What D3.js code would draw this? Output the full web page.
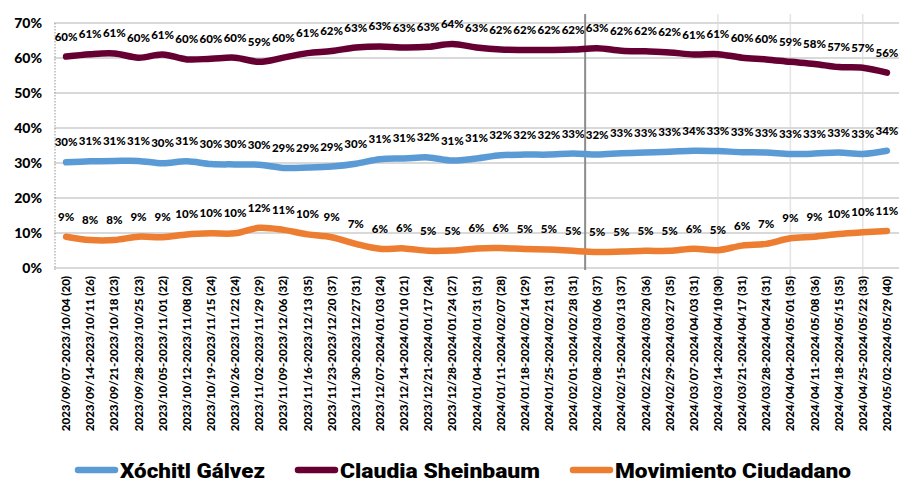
<!DOCTYPE html>
<html><head><meta charset="utf-8">
<script src="https://cdn.jsdelivr.net/npm/d3@7/dist/d3.min.js"></script>
<style>
html,body{margin:0;padding:0;background:#fff;}
svg{display:block;font-family:Lato,"Open Sans",sans-serif;}
</style></head>
<body><svg id="chart" width="921" height="502"></svg>
<script>
const categories = [
"2023/09/07-2023/10/04 (20)","2023/09/14-2023/10/11  (26)","2023/09/21-2023/10/18 (23)","2023/09/28-2023/10/25 (23)",
"2023/10/05-2023/11/01 (22)","2023/10/12-2023/11/08 (20)","2023/10/19-2023/11/15 (24)","2023/10/26-2023/11/22 (24)",
"2023/11/02-2023/11/29 (29)","2023/11/09-2023/12/06 (32)","2023/11/16-2023/12/13 (35)","2023/11/23-2023/12/20 (37)",
"2023/11/30-2023/12/27 (31)","2023/12/07-2024/01/03 (24)","2023/12/14-2024/01/10 (21)","2023/12/21-2024/01/17 (24)",
"2023/12/28-2024/01/24 (27)","2024/01/04-2024/01/31 (31)","2024/01/11-2024/02/07  (28)","2024/01/18-2024/02/14 (29)",
"2024/01/25-2024/02/21 (31)","2024/02/01-2024/02/28 (31)","2024/02/08-2024/03/06 (37)","2024/02/15-2024/03/13 (37)",
"2024/02/22-2024/03/20 (36)","2024/02/29-2024/03/27 (35)","2024/03/07-2024/04/03 (31)","2024/03/14-2024/04/10 (30)",
"2024/03/21-2024/04/17 (31)","2024/03/28-2024/04/24 (31)","2024/04/04-2024/05/01 (35)","2024/04/11-2024/05/08 (36)",
"2024/04/18-2024/05/15 (35)","2024/04/25-2024/05/22 (33)","2024/05/02-2024/05/29 (40)"];

const galvez = [30.2,30.5,30.6,30.6,29.9,30.5,29.7,29.6,29.5,28.6,28.7,29.0,29.8,31.1,31.3,31.6,30.7,
31.3,32.2,32.4,32.4,32.7,32.4,32.8,33.0,33.2,33.5,33.4,33.1,33.0,32.6,32.7,33.0,32.6,33.5];
const sheinbaum = [60.4,61.1,61.3,60.1,61.0,59.6,59.8,60.1,58.9,60.1,61.4,62.0,63.0,63.3,63.0,63.2,64.0,
63.0,62.4,62.3,62.3,62.4,62.8,62.1,61.9,61.6,61.0,61.1,60.1,59.6,58.9,58.3,57.4,57.2,55.8];
const mc = [8.95,8.0,8.0,8.95,8.8,9.6,9.9,9.9,11.5,10.9,9.6,8.8,6.9,5.5,5.6,4.9,5.0,
5.6,5.7,5.4,5.3,4.9,4.6,4.7,4.9,4.9,5.5,5.1,6.4,6.9,8.5,8.95,9.7,10.2,10.6];

const seriesNames = ["Xóchitl Gálvez","Claudia Sheinbaum","Movimiento Ciudadano"];
const seriesColors = ["#5B9BD5","#670032","#ED7D31"];
const yTicks = [0,10,20,30,40,50,60,70];
const dividerAfter = "2024/02/01-2024/02/28 (31)";
const faintMarks = ["2024/03/14-2024/04/10 (30)","2024/04/04-2024/05/01 (35)","2024/04/25-2024/05/22 (33)"];

const series = [galvez, sheinbaum, mc];
const svg = d3.select("#chart");
svg.append("rect").attr("width",921).attr("height",502).attr("fill","#fff");

const pLeft = 54, pRight = 899, pTop = 23, pBottom = 268;
const x = d3.scaleBand().domain(categories).range([pLeft,pRight]);
const cx = c => x(c) + x.bandwidth()/2;
const y = d3.scaleLinear().domain([0,70]).range([pBottom,pTop]);

// faint vertical lines
svg.append("g").selectAll("line").data(faintMarks).join("line")
  .attr("x1",d=>cx(d)).attr("x2",d=>cx(d)).attr("y1",14).attr("y2",312)
  .attr("stroke","#e4e4e4").attr("stroke-width",1.5);

// gridlines
svg.append("g").selectAll("line").data(yTicks).join("line")
  .attr("x1",pLeft).attr("x2",pRight).attr("y1",d=>y(d)).attr("y2",d=>y(d))
  .attr("stroke","#d9d9d9").attr("stroke-width",2);

// left dotted axis
svg.append("line").attr("x1",pLeft+1).attr("x2",pLeft+1).attr("y1",y(70)).attr("y2",y(0)+2)
  .attr("stroke","#a6a6a6").attr("stroke-width",1.2).attr("stroke-dasharray","1.5,1.5");

// y axis labels
const yAxis = d3.axisLeft(y).tickValues(yTicks).tickFormat(d=>d+"%").tickSize(0).tickPadding(0);
const gy = svg.append("g").attr("transform",`translate(${pLeft-12},0)`).call(yAxis);
gy.select(".domain").remove();
gy.selectAll("text").attr("font-family","Lato,sans-serif").attr("font-weight","900")
  .attr("font-size","14px").attr("fill","#000");

// x axis labels
const xAxis = d3.axisBottom(x).tickSize(0).tickPadding(0);
const gx = svg.append("g").attr("transform",`translate(0,${pBottom})`).call(xAxis);
gx.select(".domain").remove();
gx.selectAll("text").attr("font-family","Lato,sans-serif").attr("font-weight","900")
  .attr("font-size","11.5px").attr("fill","#000")
  .attr("text-anchor","end").attr("dy","0.35em")
  .attr("transform","translate(0,8) rotate(-90)").attr("x",0).attr("y",0);

// divider line
const dx = x(dividerAfter) + x.bandwidth();
svg.append("line").attr("x1",dx).attr("x2",dx).attr("y1",14).attr("y2",270)
  .attr("stroke","#8c8c8c").attr("stroke-width",2);

// lines
const line = d3.line().x((d,i)=>cx(categories[i])).y(d=>y(d)).curve(d3.curveCatmullRom.alpha(0.5));
series.forEach((s,k)=>{
  svg.append("path").datum(s).attr("d",line).attr("fill","none")
    .attr("stroke",seriesColors[k]).attr("stroke-width",6.5).attr("stroke-linecap","round");
});

// data labels
series.forEach((s,k)=>{
  svg.append("g").selectAll("text").data(s).join("text")
    .attr("x",(d,i)=>cx(categories[i])).attr("y",d=>y(d)-20)
    .attr("dy","0.35em").attr("text-anchor","middle")
    .attr("font-family","Lato,sans-serif").attr("font-weight","900").attr("font-size","11.5px")
    .attr("fill","#000").text(d=>Math.round(d)+"%");
});

// legend
const legendX = [75,295,570];
const legendW = [145,200,236];
const lg = svg.append("g");
seriesNames.forEach((n,k)=>{
  lg.append("line").attr("x1",legendX[k]+3).attr("x2",legendX[k]+40).attr("y1",470).attr("y2",470)
    .attr("stroke",seriesColors[k]).attr("stroke-width",6.5).attr("stroke-linecap","round");
  lg.append("text").attr("x",legendX[k]+45).attr("y",470).attr("dy","0.36em")
    .attr("font-family","Roboto,sans-serif").attr("font-weight","900").attr("font-size","21px")
    .attr("textLength",legendW[k]).attr("lengthAdjust","spacingAndGlyphs")
    .attr("fill","#000").text(n);
});
</script></body></html>
